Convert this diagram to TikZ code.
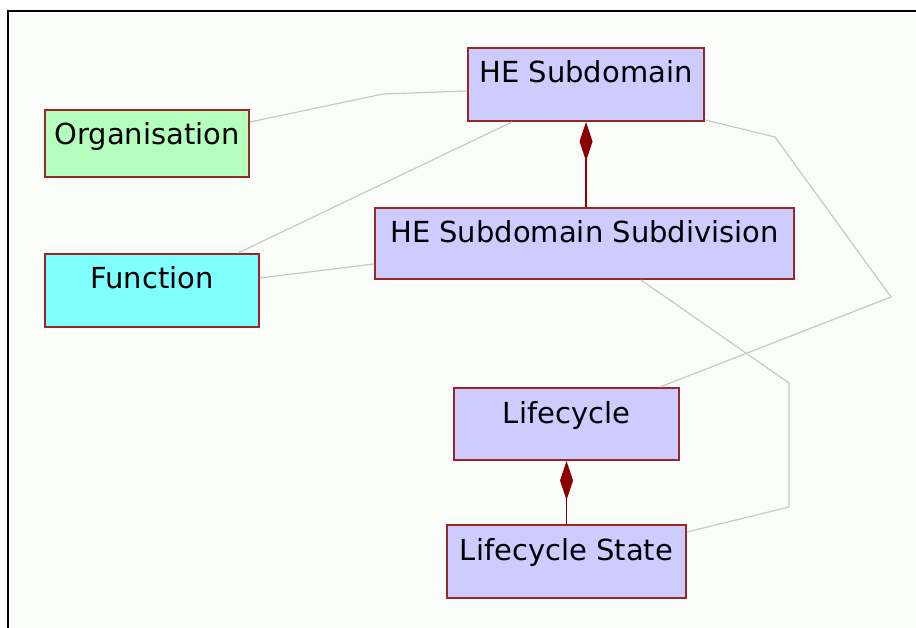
\documentclass[tikz,border=0pt]{standalone}
\usepackage{fontspec}
\setmainfont{DejaVu Sans}
\usetikzlibrary{arrows.meta}

\definecolor{paper}{RGB}{251,253,251}
\definecolor{edgered}{RGB}{155,38,38}
\definecolor{compred}{RGB}{139,0,0}
\definecolor{classblue}{RGB}{204,204,255}
\definecolor{classgreen}{RGB}{180,255,190}
\definecolor{classcyan}{RGB}{128,255,255}
\definecolor{linkgrey}{RGB}{200,200,200}

\begin{document}
\begin{tikzpicture}[x=1pt,y=-1pt,
  classbox/.style={draw=edgered, line width=2pt, inner sep=0pt, anchor=north west,
    text height=35pt, font=\fontsize{29}{31}\selectfont},
  link/.style={draw=linkgrey, line width=1.2pt},
  composition/.style={draw=compred, line width=1.5pt,
    -{Diamond[length=39pt,width=13pt,fill=compred]}}]

% canvas and frame
\useasboundingbox (0,0) rectangle (916,628);
\fill[white] (0,0) rectangle (916,628);
\fill[paper] (8,11) rectangle (916,628);
\draw[line width=2pt] (8,628) -- (8,11) -- (916,11);

% classes
\node[classbox, fill=classgreen, minimum width=204pt, text depth=32pt] (org) at (44,109) {Organisation};
\node[classbox, fill=classblue, minimum width=236pt, text depth=38pt] (he) at (467,47) {HE Subdomain};
\node[classbox, fill=classblue, minimum width=419pt, text depth=36pt] (sub) at (374,207) {HE Subdomain Subdivision};
\node[classbox, fill=classcyan, minimum width=214pt, text depth=38pt] (fun) at (44,253) {Function};
\node[classbox, fill=classblue, minimum width=225pt, text depth=37pt] (life) at (453,387) {Lifecycle};
\node[classbox, fill=classblue, minimum width=239pt, text depth=38pt] (state) at (446,524) {Lifecycle State};

% bend points of the associations
\coordinate (b1) at (383,94);
\coordinate (b4a) at (775,137);
\coordinate (b4b) at (891,297);
\coordinate (b5a) at (789,383);
\coordinate (b5b) at (789,507);

% associations
\draw[link] ([yshift=-13pt]org.north east) -- (b1) -- ([yshift=-44pt]he.north west);
\draw[link] ([xshift=194pt]fun.north west) -- ([xshift=45pt]he.south west);
\draw[link] ([yshift=-25pt]fun.north east) -- ([yshift=-57pt]sub.north west);
\draw[link] ([yshift=2pt]he.south east) -- (b4a) -- (b4b) -- ([xshift=207pt]life.north west);
\draw[link] ([xshift=267pt]sub.south west) -- (b5a) -- (b5b) -- ([yshift=-8pt]state.north east);

% compositions
\draw[composition] (sub.north -| he.south) -- (he.south);
\draw[composition] (state.north) -- (life.south);
\end{tikzpicture}
\end{document}
